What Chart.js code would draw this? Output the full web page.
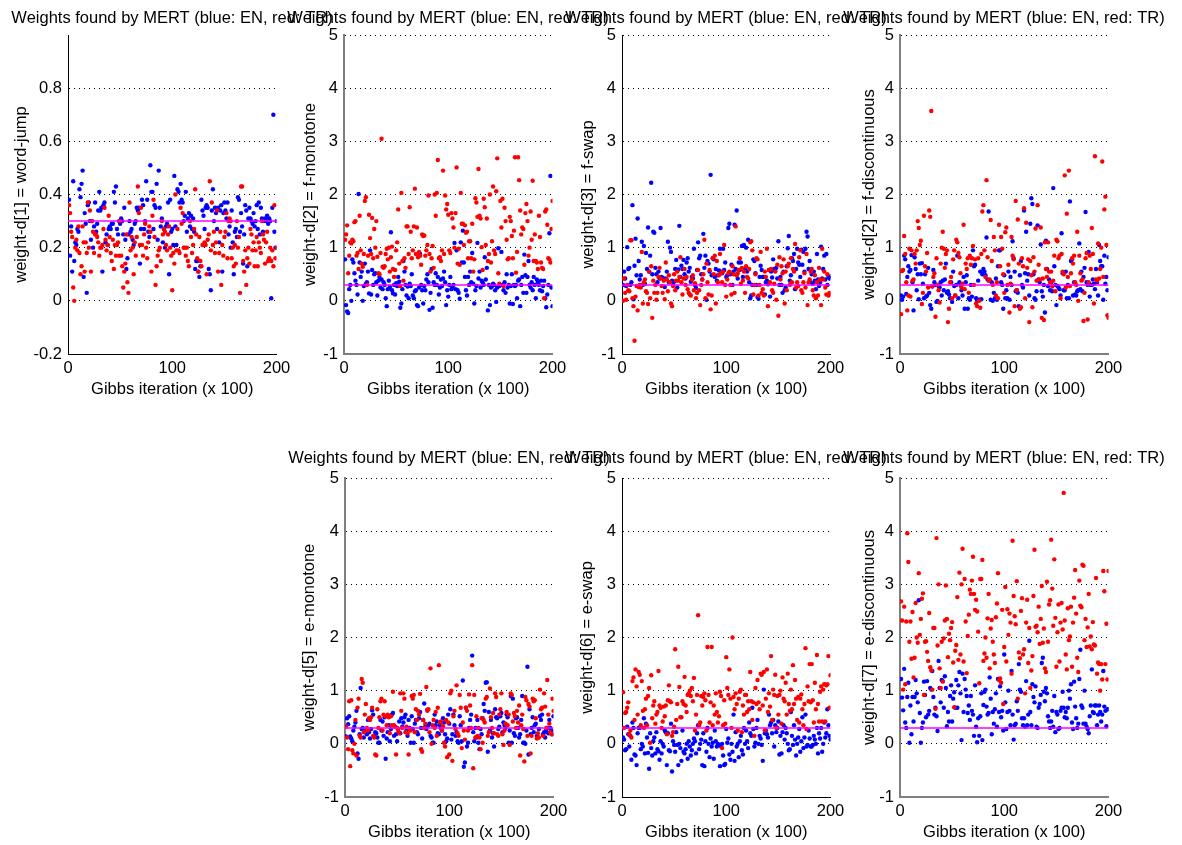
<!DOCTYPE html>
<html>
<head>
<meta charset="utf-8">
<title>Weights found by MERT</title>
<script src="https://cdn.jsdelivr.net/npm/chart.js@4.4.1/dist/chart.umd.min.js"></script>
<style>
    html, body { margin: 0; padding: 0; background: #fff; overflow: hidden; }
    #fig { position: relative; width: 1182px; height: 845px; overflow: hidden; background: #fff; }
    #fig canvas { position: absolute; }
</style>
</head>
<body>
<div id="fig"></div>
<script>
var titleText = 'Weights found by MERT (blue: EN, red: TR)';
var xLabel = 'Gibbs iteration (x 100)';
var xTicks = [0, 100, 200];
var refWeight = 0.3;

var yLabels = [
    'weight-d[1] = word-jump',
    'weight-d[2] = f-monotone',
    'weight-d[3] = f-swap',
    'weight-d[2] = f-discontinuous',
    'weight-d[5] = e-monotone',
    'weight-d[6] = e-swap',
    'weight-d[7] = e-discontinuous'
];

var blueWordJump = [
    0.38,0.17,0.28,0.11,0.45,0.15,0.22,0.21,0.27,0.26,0.42,0.39,0.44,0.49,0.09,0.33,0.29,0.03,0.36,0.37,
    0.30,0.23,0.30,0.20,0.28,0.37,0.26,0.29,0.34,0.41,0.34,0.35,0.11,0.36,0.37,0.22,0.25,0.21,0.27,0.28,
    0.27,0.29,0.29,0.41,0.37,0.43,0.27,0.25,0.30,0.29,0.31,0.30,0.25,0.35,0.23,0.12,0.16,0.25,0.30,0.26,
    0.27,0.23,0.21,0.29,0.30,0.35,0.34,0.35,0.14,0.27,0.38,0.36,0.27,0.30,0.45,0.38,0.26,0.24,0.51,0.41,
    0.41,0.27,0.36,0.35,0.44,0.23,0.49,0.35,0.28,0.31,0.22,0.27,0.20,0.28,0.29,0.37,0.10,0.38,0.26,0.27,
    0.21,0.47,0.28,0.21,0.42,0.41,0.37,0.44,0.38,0.37,0.30,0.32,0.41,0.26,0.31,0.33,0.28,0.32,0.27,0.31,
    0.26,0.12,0.15,0.15,0.11,0.09,0.13,0.38,0.34,0.32,0.27,0.35,0.36,0.35,0.12,0.10,0.04,0.34,0.42,0.30,
    0.35,0.33,0.27,0.35,0.22,0.34,0.36,0.11,0.33,0.37,0.34,0.31,0.37,0.25,0.28,0.20,0.34,0.22,0.10,0.26,
    0.27,0.24,0.39,0.38,0.26,0.33,0.28,0.14,0.25,0.36,0.34,0.13,0.31,0.35,0.31,0.30,0.29,0.33,0.28,0.30,
    0.36,0.27,0.37,0.25,0.35,0.31,0.26,0.30,0.31,0.30,0.32,0.29,0.31,0.30,0.01,0.35,0.70,0.26,0.20,0.30
];
var redWordJump = [
    0.36,0.33,0.26,0.24,0.05,0.00,0.20,0.23,0.19,0.28,0.18,0.10,0.13,0.28,0.22,0.11,0.22,0.18,0.37,0.20,
    0.34,0.11,0.30,0.26,0.18,0.25,0.25,0.24,0.22,0.17,0.20,0.20,0.21,0.27,0.35,0.23,0.19,0.21,0.32,0.24,
    0.18,0.15,0.23,0.12,0.21,0.17,0.21,0.22,0.17,0.30,0.17,0.13,0.05,0.11,0.14,0.25,0.07,0.03,0.37,0.19,
    0.24,0.20,0.10,0.22,0.17,0.24,0.43,0.33,0.21,0.35,0.21,0.17,0.25,0.29,0.20,0.16,0.22,0.28,0.26,0.11,
    0.32,0.38,0.24,0.06,0.13,0.17,0.19,0.20,0.15,0.30,0.25,0.27,0.26,0.21,0.19,0.25,0.28,0.20,0.17,0.04,
    0.18,0.14,0.40,0.19,0.27,0.19,0.18,0.35,0.29,0.33,0.20,0.20,0.17,0.20,0.15,0.13,0.30,0.24,0.18,0.21,
    0.27,0.42,0.25,0.16,0.11,0.24,0.15,0.13,0.21,0.21,0.22,0.21,0.10,0.23,0.25,0.45,0.19,0.37,0.21,0.26,
    0.18,0.22,0.34,0.11,0.18,0.26,0.06,0.21,0.17,0.24,0.26,0.33,0.16,0.30,0.31,0.30,0.16,0.20,0.13,0.21,
    0.14,0.30,0.20,0.24,0.03,0.43,0.43,0.15,0.11,0.19,0.06,0.16,0.20,0.14,0.27,0.25,0.19,0.22,0.13,0.19,
    0.24,0.13,0.22,0.20,0.18,0.30,0.25,0.23,0.14,0.22,0.26,0.15,0.16,0.20,0.15,0.19,0.13,0.36,0.16,0.20
];

var blueFMono = [
    0.78,-0.08,-0.20,-0.23,0.22,0.30,0.00,0.78,0.72,0.52,0.38,0.30,0.12,2.01,0.72,0.45,0.55,0.00,0.28,0.70,
    0.32,0.35,0.55,0.14,0.95,0.12,0.58,0.30,0.50,0.52,0.35,0.10,0.38,0.45,0.25,0.40,0.22,0.35,0.30,0.05,
    -0.10,0.22,0.38,0.26,1.29,0.20,0.14,0.30,0.12,0.33,0.28,0.45,0.36,-0.13,-0.05,0.22,0.75,0.55,0.30,0.10,
    0.27,0.05,0.32,0.28,0.50,0.10,0.05,0.18,0.20,-0.08,-0.10,0.25,0.88,0.30,0.20,-0.05,0.28,0.20,0.40,0.50,
    0.35,-0.17,0.15,0.60,-0.13,0.35,0.30,0.52,0.30,0.45,0.12,0.25,0.40,0.28,0.42,0.55,0.35,-0.08,0.20,0.08,
    0.30,0.45,0.22,0.25,0.30,1.09,0.22,0.95,0.20,0.15,0.04,1.10,0.72,1.32,0.72,0.45,0.20,0.10,0.45,0.30,
    0.55,0.35,0.90,0.32,-0.05,0.20,0.28,1.09,0.42,0.55,0.25,0.38,0.35,0.30,0.82,0.40,0.62,-0.18,0.30,-0.08,
    0.25,0.28,0.32,0.30,0.20,-0.02,0.25,0.99,0.28,0.30,0.92,0.30,0.20,0.35,0.15,0.50,0.25,0.30,-0.05,0.28,
    0.50,-0.06,0.30,0.28,0.30,0.05,0.38,0.40,-0.10,0.30,0.45,0.15,0.87,0.48,0.15,0.45,0.75,0.30,0.25,0.35,
    0.20,0.45,0.30,0.05,0.40,0.35,0.30,0.20,0.38,0.18,0.28,0.38,0.05,-0.12,0.12,0.30,1.27,2.35,0.25,-0.10
];
var redFMono = [
    1.15,1.25,1.42,0.52,0.85,1.10,1.08,1.15,1.12,1.48,1.50,0.85,0.90,0.60,1.60,0.95,0.70,0.64,0.88,1.88,
    1.95,0.30,0.85,1.62,1.18,0.88,1.56,0.80,1.35,1.00,1.50,0.83,0.52,0.50,0.90,3.05,0.64,0.62,0.65,0.88,
    0.98,0.78,1.00,0.55,0.82,1.02,0.60,0.45,0.58,0.95,1.10,1.72,0.70,0.28,2.03,0.75,0.38,0.80,0.62,1.40,
    1.40,0.88,1.76,1.30,0.80,0.95,1.40,2.11,0.88,1.38,0.82,0.92,0.85,0.68,1.25,1.22,1.23,0.85,0.95,1.05,
    1.98,0.88,0.55,0.80,1.03,0.62,2.00,1.60,2.03,2.65,0.80,0.82,0.75,0.95,2.45,0.88,1.98,1.72,1.82,1.62,
    0.95,0.90,1.65,1.55,1.38,1.00,1.65,2.51,0.70,0.98,0.68,2.03,1.45,1.45,1.05,1.42,1.28,1.30,0.80,1.12,
    1.12,0.80,1.45,0.55,0.78,1.93,1.85,1.58,2.48,1.60,1.55,1.01,0.58,1.92,1.76,1.05,1.55,0.75,0.88,2.00,
    0.72,1.12,2.15,0.95,0.88,2.06,2.68,0.52,0.32,1.88,1.38,1.92,0.28,1.75,1.50,1.15,0.78,0.80,1.58,1.50,
    1.22,0.80,1.32,2.70,0.53,0.92,2.70,2.27,1.70,1.25,1.38,1.35,0.68,1.65,1.82,1.50,0.85,1.00,1.68,1.15,
    2.26,0.75,1.25,0.75,0.72,0.60,1.60,1.20,0.72,0.62,0.60,0.05,1.68,1.72,1.43,0.80,0.78,0.72,1.35,1.88
];

var blueFSwap = [
    0.30,0.55,0.42,0.28,1.01,0.60,0.62,0.30,0.35,1.80,0.03,0.66,1.17,0.48,1.55,0.75,0.40,0.48,1.11,0.30,
    1.03,0.32,0.90,0.60,1.38,0.55,0.85,2.22,0.50,1.30,1.28,0.62,0.50,0.35,0.55,0.42,1.37,0.45,0.43,0.40,
    0.26,0.42,0.55,1.11,0.35,1.00,0.92,0.38,0.30,0.36,0.60,0.77,0.25,0.59,1.41,0.45,0.66,0.60,0.77,0.50,
    0.42,0.72,0.80,0.55,0.62,0.36,0.45,0.42,0.98,0.30,0.24,0.58,1.10,0.80,0.85,0.50,0.40,1.26,0.62,0.85,
    0.02,0.75,0.70,0.55,2.37,0.48,0.80,0.78,0.45,0.60,0.38,0.48,0.57,0.98,0.55,0.52,0.98,0.58,0.72,0.45,
    0.48,1.37,1.45,0.50,0.68,0.30,0.55,1.43,0.60,1.70,0.42,0.72,0.58,0.72,1.03,0.45,1.05,0.60,1.00,0.55,
    1.15,0.35,0.05,0.10,0.30,0.78,0.75,0.52,0.30,0.07,0.04,0.45,0.66,0.58,0.45,0.45,0.12,0.35,0.38,0.31,
    0.58,0.08,0.55,0.44,0.78,0.60,0.56,0.62,0.42,1.12,0.30,0.45,0.30,0.15,0.55,0.20,0.25,0.65,0.99,1.22,
    0.38,0.48,0.80,0.75,0.88,0.22,0.60,0.98,0.72,0.68,0.45,0.96,0.68,0.92,0.55,0.98,1.30,1.21,0.60,0.75,
    0.35,0.50,0.32,0.55,0.38,0.22,0.88,0.40,0.28,0.35,1.02,0.42,0.60,0.85,0.40,0.88,0.30,0.45,0.42,0.46
];
var redFSwap = [
    0.00,0.42,0.15,0.02,0.30,0.20,0.18,1.14,1.14,0.05,-0.10,-0.75,0.08,0.28,-0.18,0.26,0.30,0.25,0.92,-0.05,
    0.35,0.40,0.18,0.15,-0.06,0.55,0.05,0.65,-0.32,0.38,0.15,0.30,0.02,0.15,0.45,0.62,0.42,0.28,0.15,0.38,
    0.03,0.72,0.40,0.18,0.48,0.35,-0.05,-0.10,0.28,0.50,0.20,0.38,0.55,0.38,0.45,0.82,0.35,0.12,0.42,0.60,
    0.30,0.45,0.22,0.15,0.12,0.10,0.40,0.48,0.20,0.33,0.05,0.15,0.58,0.20,-0.08,0.30,0.40,0.50,1.15,0.05,
    0.70,0.35,0.12,0.58,-0.16,0.10,0.80,0.50,0.85,-0.05,0.75,0.35,0.48,0.88,0.52,0.35,0.55,1.05,0.30,0.08,
    0.40,0.52,0.55,0.30,0.12,0.65,0.50,0.15,1.40,0.48,0.52,0.58,0.80,0.32,0.62,0.38,0.55,0.15,0.65,0.45,
    0.42,0.60,1.10,1.12,0.95,0.12,0.30,0.50,0.80,0.78,0.10,0.30,0.92,0.15,0.22,0.10,0.55,0.45,0.98,-0.10,
    0.58,0.35,0.60,0.20,0.15,0.32,0.55,0.02,0.68,-0.28,0.82,0.40,0.65,0.52,0.78,-0.05,0.55,0.20,0.65,0.70,
    0.30,0.80,0.35,0.60,0.55,1.07,0.25,0.35,0.28,0.82,0.95,0.20,0.15,0.35,0.52,0.25,0.88,-0.08,0.35,0.40,
    0.55,0.60,0.20,0.10,0.48,0.05,0.35,0.10,0.62,0.40,-0.08,0.98,0.40,0.55,0.25,0.12,0.50,0.10,0.15,0.12
];

var blueFDisc = [
    0.10,0.02,0.08,0.85,0.78,0.13,0.45,0.65,0.55,0.58,0.86,0.35,-0.18,0.82,0.60,0.20,0.50,0.03,0.70,0.50,
    0.71,0.32,0.05,0.50,0.08,0.10,0.62,0.15,-0.08,-0.15,0.27,0.58,0.35,0.30,-0.02,0.00,0.28,0.25,0.35,0.10,
    0.38,0.20,0.40,0.70,0.15,0.18,0.12,0.05,0.35,-0.02,0.55,0.28,0.10,0.30,0.85,0.05,0.35,0.30,0.20,0.10,
    0.45,-0.15,0.35,0.48,-0.15,0.05,0.02,0.30,0.08,0.95,0.65,0.68,0.05,0.00,0.38,0.02,0.55,0.03,0.50,0.60,
    0.55,0.48,1.19,0.40,1.68,0.38,0.02,0.35,0.00,0.15,0.05,0.42,0.02,0.65,0.95,0.95,0.35,0.30,-0.15,0.48,
    0.05,0.20,0.05,0.55,0.02,0.45,0.30,1.12,0.80,0.55,0.18,0.20,0.15,-0.10,0.48,0.75,0.30,0.25,1.70,0.52,
    1.30,0.38,0.50,0.10,1.45,1.93,1.82,0.50,0.05,0.02,0.18,1.42,0.40,0.35,1.06,0.18,0.08,0.30,-0.22,1.13,
    0.60,0.28,0.40,0.20,0.35,0.18,2.12,0.65,0.30,-0.08,0.28,0.25,0.22,0.10,1.27,0.52,0.20,0.20,0.55,0.05,
    0.30,0.05,1.87,0.75,0.78,0.10,0.35,0.12,0.10,0.18,0.20,1.08,0.22,0.55,0.18,0.45,0.62,1.67,0.35,0.30,
    0.92,0.08,0.30,0.30,0.40,0.32,0.22,0.60,0.35,0.10,1.05,0.75,0.65,0.65,0.02,0.85,0.32,0.45,0.20,0.82
];
var redFDisc = [
    -0.25,0.56,0.58,1.22,0.88,0.35,-0.18,0.10,0.98,0.08,0.95,0.38,0.40,0.88,0.70,0.95,1.50,1.37,1.05,1.13,
    -0.06,0.15,1.60,0.65,0.55,0.90,0.25,1.70,1.58,3.57,0.28,0.45,0.52,-0.30,0.80,0.30,0.20,-0.03,0.70,1.00,
    1.30,0.98,0.62,0.88,0.95,-0.40,-0.15,0.35,0.45,0.05,0.78,0.95,0.10,1.15,1.10,0.90,0.82,0.52,0.25,0.32,
    1.43,0.22,0.70,0.60,0.80,0.15,0.85,0.68,0.80,1.03,0.30,0.78,-0.05,-0.10,0.80,0.00,-0.13,0.88,1.68,1.80,
    0.95,0.45,2.27,0.82,0.38,0.40,1.52,0.75,0.30,1.20,0.95,0.10,0.35,0.05,1.43,0.65,1.20,0.98,0.50,0.15,
    1.29,1.38,0.30,0.68,-0.22,0.32,1.20,0.85,0.78,-0.10,1.88,0.20,1.53,0.70,-0.15,-0.12,0.80,0.65,1.74,0.05,
    1.47,0.62,0.78,-0.40,0.75,0.48,-0.12,0.82,0.55,1.36,0.38,1.80,0.68,0.40,1.38,-0.32,0.42,-0.36,1.10,0.60,
    0.45,1.10,0.55,0.35,0.55,0.27,0.38,0.85,0.18,1.15,1.12,0.80,0.85,0.05,0.88,0.55,0.50,2.36,0.25,1.64,
    0.45,2.45,0.28,0.52,0.80,0.70,0.85,0.35,0.30,1.30,0.00,0.85,0.52,0.38,0.40,-0.38,0.15,0.80,0.90,-0.35,
    0.35,0.85,0.60,1.37,0.88,-0.05,2.72,0.40,0.38,1.08,0.42,0.60,1.00,2.62,0.45,1.72,1.96,1.05,-0.27,-0.32
];

var blueEMono = [
    0.14,0.48,0.37,0.52,0.14,0.10,0.05,0.25,0.32,0.40,0.62,-0.18,-0.28,0.18,1.05,0.28,0.30,0.12,0.22,0.26,
    0.18,0.45,0.22,0.10,0.28,0.63,0.55,0.15,0.22,0.20,0.12,0.02,0.02,0.45,0.25,0.42,0.15,0.50,-0.28,0.10,
    0.22,0.35,0.05,0.28,0.55,0.58,0.15,0.32,0.18,0.05,0.28,0.42,0.20,0.48,0.32,0.40,0.50,0.55,0.25,0.15,
    0.45,0.30,0.02,0.52,0.28,0.02,0.38,0.45,0.22,0.18,0.48,0.60,0.30,0.10,0.45,0.76,0.32,0.28,0.64,0.35,
    0.38,0.15,0.12,0.02,0.02,0.55,0.35,0.42,0.20,0.18,0.35,0.30,0.25,0.48,0.40,0.18,0.05,0.10,0.55,0.38,
    0.65,0.08,0.18,0.55,0.35,0.15,0.22,0.05,0.02,0.52,0.35,0.05,1.19,-0.43,-0.35,0.68,-0.05,0.02,0.30,0.45,
    0.55,1.66,0.22,0.05,0.30,0.12,0.45,0.02,-0.10,0.28,0.18,0.48,0.75,0.62,1.15,1.16,-0.15,0.60,0.25,0.45,
    0.12,0.20,-0.05,0.65,0.50,0.48,0.28,0.32,0.52,0.58,0.22,0.40,0.35,0.30,0.55,0.50,0.02,0.25,0.90,0.02,
    0.85,0.20,0.15,0.48,0.50,0.30,0.12,0.18,0.45,0.90,0.02,0.02,0.00,0.25,1.45,-0.20,0.65,0.18,0.30,0.50,
    0.22,0.35,0.38,0.15,0.12,0.28,0.52,0.45,0.55,0.18,0.22,0.12,0.25,0.30,0.20,0.45,0.30,0.25,0.18,0.52
];
var redEMono = [
    0.32,0.12,-0.10,0.80,-0.42,0.82,-0.12,-0.18,0.00,0.45,-0.22,0.68,0.85,0.15,0.12,1.22,1.15,0.22,0.55,0.75,
    0.30,0.25,0.48,0.45,0.50,0.68,0.15,0.12,-0.20,-0.22,0.65,0.30,0.50,0.80,0.85,0.25,0.55,0.80,0.52,0.35,
    0.55,0.50,0.20,0.52,0.35,0.98,0.35,0.32,-0.20,0.30,0.25,0.20,0.95,0.62,0.30,0.95,0.85,0.22,0.32,0.20,
    -0.20,0.28,0.25,0.90,0.85,0.92,0.22,0.65,0.45,0.62,0.55,0.94,-0.10,-0.15,0.45,0.30,0.38,1.07,0.62,0.65,
    0.22,1.42,0.00,0.35,0.45,0.30,0.60,0.15,0.68,1.48,0.40,0.42,0.25,0.33,0.02,-0.05,0.45,-0.25,0.40,-0.20,
    0.95,1.00,-0.32,0.52,0.62,0.28,1.10,0.20,0.15,0.92,0.68,-0.08,0.40,0.25,0.08,0.68,0.62,0.25,0.93,0.72,
    0.30,1.48,-0.46,0.92,0.12,0.52,0.15,0.30,0.12,-0.10,0.48,0.02,0.45,0.40,0.85,0.88,0.15,0.22,1.04,0.50,
    0.30,0.58,0.20,0.95,0.88,0.18,0.15,0.55,0.65,0.95,0.18,-0.02,0.25,0.38,0.60,0.35,0.55,-0.02,0.95,0.92,
    0.42,0.58,0.52,0.30,0.62,0.40,0.72,-0.22,0.35,0.55,0.28,-0.33,0.88,0.82,0.15,0.75,0.70,-0.18,0.15,0.85,
    0.80,0.82,0.48,0.10,0.20,0.12,1.02,0.65,0.68,0.15,0.95,0.70,0.30,1.20,0.55,0.38,0.22,0.18,0.85,0.62
];

var blueESwap = [
    0.12,0.08,-0.12,-0.10,0.32,0.18,-0.05,0.15,-0.30,0.40,0.30,-0.20,-0.22,-0.40,0.20,0.30,0.30,-0.10,0.00,-0.05,
    0.48,-0.18,0.38,0.12,-0.17,-0.47,0.20,-0.08,-0.22,0.05,0.12,-0.18,0.22,-0.10,-0.14,-0.30,0.05,-0.18,0.00,-0.05,
    0.25,0.22,-0.40,0.20,-0.12,-0.14,0.38,-0.52,0.05,-0.02,-0.15,0.22,-0.02,-0.40,0.00,-0.08,-0.32,0.25,-0.15,-0.18,
    -0.10,0.00,-0.28,0.05,-0.05,-0.22,-0.12,0.00,0.10,0.05,-0.18,0.20,0.35,-0.10,0.00,0.08,-0.40,0.20,-0.42,0.05,
    -0.15,0.30,0.00,-0.25,0.10,-0.05,0.02,-0.28,0.25,0.05,-0.05,0.00,-0.02,-0.42,-0.05,0.00,-0.22,-0.40,-0.38,0.28,
    0.02,0.10,-0.20,-0.30,0.00,-0.15,0.55,-0.32,0.22,-0.05,0.00,-0.25,0.05,0.15,-0.12,-0.20,0.30,0.00,0.25,0.05,
    -0.08,0.40,0.20,0.15,0.68,0.28,-0.05,0.02,0.30,0.45,0.00,0.15,0.10,-0.02,-0.32,1.02,0.20,0.25,0.18,0.12,
    0.55,0.35,0.40,0.20,0.45,-0.05,0.35,0.22,0.30,0.42,-0.20,0.15,-0.18,0.22,0.35,0.08,0.30,0.20,0.00,-0.12,
    -0.10,0.60,0.15,-0.02,0.35,0.08,-0.22,0.00,0.12,0.28,-0.15,0.05,0.50,-0.08,0.12,0.55,-0.05,-0.02,0.25,0.10,
    -0.05,-0.05,-0.02,0.15,0.08,0.00,0.30,-0.18,0.20,0.10,0.30,-0.15,0.00,0.40,0.12,0.20,0.65,0.35,0.15,0.08
];
var redESwap = [
    0.97,0.30,0.58,0.60,0.68,0.78,0.18,0.25,0.12,1.18,1.25,0.45,1.40,1.08,0.55,1.35,1.30,0.35,1.18,0.62,
    0.30,0.65,0.85,0.35,0.90,1.05,0.02,1.29,0.48,0.72,0.80,0.38,0.55,0.60,1.37,0.72,0.68,0.30,0.42,0.70,
    0.52,0.72,0.18,0.82,1.10,0.80,0.78,0.15,0.22,0.32,1.78,0.45,0.75,1.45,1.07,0.50,0.50,0.80,0.75,1.26,
    0.72,0.60,0.92,0.95,1.00,0.90,1.05,0.80,1.24,0.25,0.55,0.92,2.42,0.35,0.40,0.90,0.72,0.88,0.95,0.82,
    0.25,1.82,0.92,0.40,0.78,1.82,0.35,0.72,0.55,0.95,0.60,0.40,0.52,0.98,0.90,-0.08,0.35,0.82,0.38,1.63,
    1.05,0.92,1.40,0.85,0.30,2.00,0.88,0.65,0.95,0.75,0.25,0.85,0.98,1.02,0.22,0.72,0.55,0.92,0.92,0.60,
    0.80,0.65,1.35,0.80,0.45,0.78,0.15,1.05,0.75,1.20,0.78,0.65,1.32,1.30,0.72,1.35,0.25,0.85,1.40,0.60,
    0.95,0.70,1.65,0.45,1.02,0.92,1.30,0.30,0.90,0.55,0.92,1.00,0.38,1.25,0.85,0.80,1.15,0.55,1.32,0.75,
    0.62,1.02,0.65,1.48,0.75,1.20,0.85,0.45,0.88,0.40,0.85,0.93,0.65,0.35,0.75,1.80,0.28,1.08,0.80,1.50,
    0.78,1.50,0.82,0.40,1.15,0.65,1.67,0.75,0.42,0.98,1.08,0.42,1.02,1.12,0.42,1.10,1.12,1.65,0.68,1.29
];

var blueEDisc = [
    1.22,0.87,0.63,1.41,0.40,0.30,0.88,1.15,0.02,0.72,0.18,0.88,0.42,0.88,1.20,0.95,0.78,2.70,0.58,0.02,
    0.30,0.40,1.17,0.92,0.50,1.18,0.55,0.62,1.05,1.02,1.37,0.88,0.55,0.68,0.52,0.24,1.56,1.05,0.78,1.20,
    1.18,0.68,1.27,1.05,0.33,0.60,0.42,0.90,1.10,0.42,0.85,0.97,0.68,1.20,0.68,1.10,1.35,0.95,0.07,1.32,
    0.60,1.22,1.02,0.90,0.58,0.72,0.45,0.90,0.62,0.55,0.15,1.10,0.32,0.03,0.48,0.15,0.52,0.95,0.07,0.73,
    0.98,1.02,0.70,0.55,0.58,1.25,0.85,0.18,0.60,0.38,0.65,0.95,0.32,1.22,0.60,1.08,0.50,0.62,0.25,1.68,
    0.78,0.28,0.60,1.00,0.62,0.35,1.37,0.55,0.08,0.35,0.38,0.80,0.62,1.50,1.02,0.98,0.48,0.35,0.48,0.32,
    1.18,0.35,0.55,1.94,0.60,0.35,1.12,0.88,0.78,1.08,0.32,0.30,0.68,0.75,0.92,1.52,1.62,0.98,0.80,1.05,
    0.95,0.52,0.42,0.30,0.42,0.62,0.32,0.90,0.22,0.60,0.55,0.28,0.30,0.62,0.68,0.98,0.68,0.50,0.60,0.48,
    0.68,1.00,0.85,1.12,0.40,0.28,1.17,0.70,0.48,0.30,0.38,1.22,1.77,0.72,0.68,0.38,1.00,0.38,0.32,0.28,
    0.20,0.52,0.72,1.40,0.60,0.58,0.72,0.72,0.35,0.55,0.72,0.60,0.42,0.55,1.37,0.70,0.62,0.33,0.65,0.65
];
var redEDisc = [
    2.68,2.32,1.02,2.58,1.12,2.30,3.96,3.42,1.92,2.30,1.60,2.48,1.25,1.62,2.65,2.00,1.90,3.21,2.05,2.35,
    2.73,2.83,0.92,1.92,1.93,1.73,1.56,2.46,1.44,1.38,1.02,2.18,2.18,0.66,3.87,1.85,3.00,1.42,1.05,1.92,
    1.17,1.98,2.32,2.98,2.35,1.63,2.07,1.95,2.18,2.29,1.53,0.69,1.75,1.86,2.76,1.58,3.22,1.68,3.00,3.67,
    1.55,3.10,2.30,1.33,2.03,2.43,2.90,2.82,3.07,3.52,2.82,2.52,2.71,2.49,2.11,1.14,3.10,3.10,3.46,1.56,
    1.70,2.00,1.62,2.36,2.82,1.42,2.17,2.33,1.92,1.68,1.52,2.38,2.64,3.21,1.20,1.23,1.15,2.52,0.75,1.82,
    2.95,1.55,2.53,2.05,2.45,2.28,1.32,3.82,2.78,2.40,2.25,3.06,0.85,1.72,1.61,2.50,2.74,1.68,1.78,0.95,
    2.28,2.71,1.52,2.18,1.05,1.38,1.65,2.78,3.65,2.20,2.22,2.10,2.58,1.88,2.35,2.97,1.90,2.17,1.42,1.35,
    3.05,1.92,2.62,2.70,3.84,2.92,2.22,3.47,2.37,1.45,2.10,2.62,1.55,2.28,2.65,2.15,4.72,2.32,1.68,1.40,
    2.55,1.95,2.02,2.58,1.45,2.28,2.75,3.27,2.45,1.62,1.35,3.07,2.60,2.57,3.37,3.35,1.95,2.35,1.82,2.19,
    2.82,1.83,2.02,1.78,2.29,1.87,1.85,3.12,1.32,1.53,1.50,1.00,1.50,1.21,3.25,2.87,1.50,2.26,1.21,3.25
];

var FONT = "'Liberation Sans', Arial, Helvetica, sans-serif";
var FSIZE = 16.5;
var LINE_H = FSIZE * 1.2;
var CW = 400, CH = 404;          // canvas size, plot area 208.5 x 319
var AXIS_W = 96, PLOT_W = 208.5; // y axis box width, plot width

// panel placement: axisX = pixel of the y axis, top = canvas top
var panels = [
    { blue: blueWordJump, red: redWordJump, label: yLabels[0], axisX: 67.7,  top: 0,     yMin: -0.2, yMax: 1, yStep: 0.2, hideTop: true,  gray: false, gap: 47, tPad: 8.6 },
    { blue: blueFMono,    red: redFMono,    label: yLabels[1], axisX: 344.3, top: 0,     yMin: -1,   yMax: 5, yStep: 1,   hideTop: false, gray: true,  gap: 34, tPad: 8.6 },
    { blue: blueFSwap,    red: redFSwap,    label: yLabels[2], axisX: 622.3, top: 0,     yMin: -1,   yMax: 5, yStep: 1,   hideTop: false, gray: false, gap: 34, tPad: 8.6 },
    { blue: blueFDisc,    red: redFDisc,    label: yLabels[3], axisX: 900,   top: 0,     yMin: -1,   yMax: 5, yStep: 1,   hideTop: false, gray: true,  gap: 31, tPad: 8.6 },
    { blue: blueEMono,    red: redEMono,    label: yLabels[4], axisX: 345,   top: 442.7, yMin: -1,   yMax: 5, yStep: 1,   hideTop: false, gray: true,  gap: 36, tPad: 5.9 },
    { blue: blueESwap,    red: redESwap,    label: yLabels[5], axisX: 622.3, top: 442.7, yMin: -1,   yMax: 5, yStep: 1,   hideTop: false, gray: false, gap: 35, tPad: 5.9 },
    { blue: blueEDisc,    red: redEDisc,    label: yLabels[6], axisX: 900,   top: 442.7, yMin: -1,   yMax: 5, yStep: 1,   hideTop: false, gray: true,  gap: 31, tPad: 5.9 }
];

function toPoints(values) {
    return values.map(function (v, i) { return { x: i + 1, y: v }; });
}

function fmtTick(v) {
    var r = Math.round(v * 10) / 10;
    return r === 0 ? '0' : String(r);
}

function drawPanel(p) {
    var cv = document.createElement('canvas');
    cv.width = CW;
    cv.height = CH;
    cv.style.left = (p.axisX - AXIS_W) + 'px';
    cv.style.top = p.top + 'px';
    document.getElementById('fig').appendChild(cv);

    var axisColor = p.gray ? '#7f7f7f' : '#000000';
    var axisWidth = p.gray ? 2 : 1;
    var font = { family: FONT, size: FSIZE };

    new Chart(cv.getContext('2d'), {
        type: 'scatter',
        data: {
            datasets: [
                {
                    data: [{ x: 0, y: refWeight }, { x: 200, y: refWeight }],
                    showLine: true,
                    borderColor: '#ff00ff',
                    borderWidth: 1.5,
                    pointRadius: 0
                },
                {
                    data: toPoints(p.red),
                    backgroundColor: '#ff0000',
                    pointRadius: 2.2,
                    pointBorderWidth: 0
                },
                {
                    data: toPoints(p.blue),
                    backgroundColor: '#0000ff',
                    pointRadius: 2.2,
                    pointBorderWidth: 0
                }
            ]
        },
        options: {
            responsive: false,
            animation: false,
            events: [],
            layout: { padding: 0 },
            plugins: {
                legend: { display: false },
                tooltip: { enabled: false },
                title: {
                    display: true,
                    text: titleText,
                    color: '#000',
                    font: { family: FONT, size: FSIZE, weight: 'normal' },
                    padding: { top: p.tPad, bottom: 35 - LINE_H - p.tPad }
                }
            },
            scales: {
                x: {
                    type: 'linear',
                    min: 0,
                    max: 200,
                    afterBuildTicks: function (s) {
                        s.ticks = xTicks.map(function (v) { return { value: v }; });
                    },
                    afterFit: function (s) {
                        s.height = 50;
                        s.paddingLeft = 0;
                        s.paddingRight = 0;
                    },
                    ticks: { color: '#000', font: font, padding: 5, maxRotation: 0, autoSkip: false },
                    grid: { display: false, drawTicks: false },
                    border: { display: true, color: axisColor, width: axisWidth },
                    title: { display: true, text: xLabel, color: '#000', font: font, padding: { top: 0, bottom: 15 - LINE_H / 2 } }
                },
                y: {
                    type: 'linear',
                    min: p.yMin,
                    max: p.yMax,
                    afterBuildTicks: function (s) {
                        if (p.hideTop) {
                            s.ticks = s.ticks.filter(function (t) { return t.value < p.yMax - 1e-6; });
                        }
                    },
                    afterFit: function (s) {
                        s.width = AXIS_W;
                        s.paddingTop = 0;
                        s.paddingBottom = 0;
                    },
                    ticks: { stepSize: p.yStep, color: '#000', font: font, padding: 6, callback: fmtTick },
                    grid: { color: '#000', lineWidth: 1, drawTicks: false },
                    border: { display: true, color: axisColor, width: axisWidth, dash: [1, 4] },
                    title: { display: true, text: p.label, color: '#000', font: font, padding: { top: AXIS_W - p.gap - LINE_H / 2, bottom: 0 } }
                },
                // empty box on the right so the plot is centred under its title
                spacer: {
                    type: 'linear',
                    position: 'right',
                    display: true,
                    ticks: { display: false },
                    grid: { display: false, drawTicks: false },
                    border: { display: false },
                    afterFit: function (s) {
                        s.width = CW - AXIS_W - PLOT_W;
                        s.paddingTop = 0;
                        s.paddingBottom = 0;
                    }
                }
            }
        }
    });
}

panels.forEach(drawPanel);
</script>
</body>
</html>
